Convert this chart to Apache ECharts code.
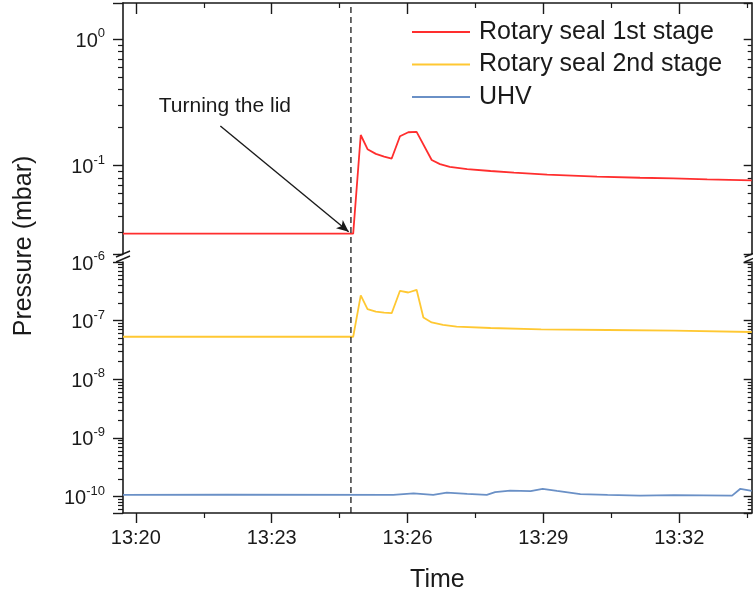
<!DOCTYPE html>
<html>
<head>
<meta charset="utf-8">
<title>Pressure during lid rotation</title>
<script src="https://cdn.jsdelivr.net/npm/echarts@6/dist/echarts.min.js"></script>
<style>
  html, body { margin: 0; padding: 0; background: #fff; }
  #chart { width: 753px; height: 598px; }
</style>
</head>
<body>
<div id="chart"></div>
<script>
// ---- data -------------------------------------------------------------
const seriesNames = ['Rotary seal 1st stage', 'Rotary seal 2nd stage', 'UHV'];

// Rotary seal 1st stage (mbar)
const stage1Times = ['13:19:43', '13:24:48', '13:24:58', '13:25:07', '13:25:18', '13:25:29', '13:25:39',
  '13:25:50', '13:26:01', '13:26:12', '13:26:32', '13:26:43', '13:26:56', '13:27:19', '13:27:50',
  '13:28:21', '13:29:05', '13:30:11', '13:31:08', '13:31:52', '13:32:37', '13:33:36'];
const stage1Values = [0.029, 0.029, 0.175, 0.135, 0.124, 0.118, 0.114,
  0.171, 0.184, 0.185, 0.111, 0.103, 0.098, 0.094, 0.0908,
  0.088, 0.0849, 0.0818, 0.0803, 0.0795, 0.078, 0.0766];

// Rotary seal 2nd stage (mbar)
const stage2Times = ['13:19:43', '13:24:48', '13:24:58', '13:25:07', '13:25:18', '13:25:29', '13:25:39',
  '13:25:50', '13:26:01', '13:26:12', '13:26:21', '13:26:32', '13:26:47', '13:27:05', '13:27:50',
  '13:28:57', '13:30:25', '13:31:53', '13:33:36'];
const stage2Values = [5.32e-8, 5.32e-8, 2.70e-7, 1.57e-7, 1.43e-7, 1.37e-7, 1.34e-7,
  3.23e-7, 3.02e-7, 3.36e-7, 1.13e-7, 9.31e-8, 8.5e-8, 7.89e-8, 7.50e-8,
  7.13e-8, 6.93e-8, 6.74e-8, 6.41e-8];

// UHV chamber (mbar)
const uhvTimes = ['13:19:43', '13:22:00', '13:25:41', '13:26:08', '13:26:34', '13:26:52', '13:27:19',
  '13:27:45', '13:27:56', '13:28:16', '13:28:43', '13:28:59', '13:29:18', '13:29:49', '13:30:25',
  '13:31:08', '13:31:53', '13:33:10', '13:33:21', '13:33:36'];
const uhvValues = [1.07e-10, 1.08e-10, 1.07e-10, 1.14e-10, 1.07e-10, 1.17e-10, 1.11e-10,
  1.07e-10, 1.19e-10, 1.27e-10, 1.24e-10, 1.36e-10, 1.25e-10, 1.10e-10, 1.07e-10,
  1.04e-10, 1.06e-10, 1.04e-10, 1.36e-10, 1.25e-10];

// Time axis
const timeRange = ['13:19:43', '13:33:36'];
const timeTickLabels = ['13:20', '13:23', '13:26', '13:29', '13:32'];
const timeMinorTicks = ['13:21:30', '13:24:30', '13:27:30', '13:30:30', '13:33:30'];

// Pressure axes (broken: upper and lower panels)
const upperRange = [0.02, 1.94];
const upperDecades = [0.1, 1];
const lowerRange = [5.26e-11, 1e-6];
const lowerDecades = [1e-10, 1e-9, 1e-8, 1e-7, 1e-6];

// Event marker and annotation
const eventTime = '13:24:45';
const annotationText = 'Turning the lid';
const annotationAt = ['13:21:58', 0.297];
const arrowFrom = ['13:21:52', 0.206];
const arrowTo = ['13:24:42', 0.030];

// ---- helpers ----------------------------------------------------------
function toMin(t) {
  const p = t.split(':').map(Number);
  return p[0] * 60 + p[1] + (p[2] || 0) / 60;
}
function fmtTime(v) {
  const h = Math.floor(v / 60);
  const m = Math.round(v - h * 60);
  return h + ':' + String(m).padStart(2, '0');
}
function pairs(times, values) {
  return times.map((t, i) => [toMin(t), values[i]]);
}
function logMinors(range) {
  const out = [];
  const d0 = Math.floor(Math.log10(range[0]));
  const d1 = Math.ceil(Math.log10(range[1]));
  for (let d = d0; d <= d1; d++) {
    for (let k = 2; k <= 9; k++) {
      const v = k * Math.pow(10, d);
      if (v >= range[0] && v <= range[1]) out.push(v);
    }
  }
  return out;
}

const FONT = 'Liberation Sans, Arial, sans-serif';
const INK = '#1a1a1a';
const COLORS = ['#ff2e2e', '#ffc832', '#6a90c6'];
const xMin = toMin(timeRange[0]);
const xMax = toMin(timeRange[1]);

const decadeRich = {
  b: { fontSize: 20, lineHeight: 24, verticalAlign: 'bottom', fontFamily: FONT, color: INK },
  s: { fontSize: 13, lineHeight: 13, verticalAlign: 'top', fontFamily: FONT, color: INK }
};

// minor ticks of a log panel, laid out in decade (exponent) space
function minorTickAxis(gridIndex, range, position, inside, length) {
  const vals = logMinors(range).map(v => Math.log10(v));
  return {
    type: 'value', gridIndex: gridIndex, position: position,
    min: Math.log10(range[0]), max: Math.log10(range[1]),
    axisLine: { show: false, onZero: false },
    axisTick: { show: true, inside: inside, length: length, customValues: vals, lineStyle: { color: INK, width: 1.2 } },
    axisLabel: { show: true, customValues: vals, formatter: () => '' },
    splitLine: { show: false }
  };
}

// y axes of one panel: left log scale carrying data, labels and decade ticks,
// right frame edge with inward decade ticks, plus minor-tick axes
function panelYAxes(gridIndex, range) {
  const base = {
    type: 'log', logBase: 10, gridIndex: gridIndex,
    min: range[0], max: range[1],
    splitLine: { show: false }, minorTick: { show: false }
  };
  return [
    Object.assign({}, base, {
      position: 'left',
      axisLine: { show: true, onZero: false, lineStyle: { color: INK, width: 1.6 } },
      axisTick: { show: true, inside: false, length: 10, lineStyle: { color: INK, width: 1.4 } },
      axisLabel: {
        margin: 18, fontFamily: FONT, color: INK, rich: decadeRich,
        formatter: v => {
          const e = Math.log10(v);
          return Math.abs(e - Math.round(e)) < 1e-6 ? '{b|10}{s|' + Math.round(e) + '}' : '';
        }
      }
    }),
    Object.assign({}, base, {
      position: 'right',
      axisLine: { show: true, onZero: false, lineStyle: { color: INK, width: 1.6 } },
      axisTick: { show: true, inside: true, length: 8, lineStyle: { color: INK, width: 1.4 } },
      axisLabel: { show: false }
    }),
    minorTickAxis(gridIndex, range, 'left', false, 5),
    minorTickAxis(gridIndex, range, 'right', true, 4)
  ];
}

const xBase = {
  type: 'value', min: xMin, max: xMax,
  splitLine: { show: false }
};
const majorTicks = timeTickLabels.map(toMin);
const minorTicks = timeMinorTicks.map(toMin);

const xAxes = [
  // upper panel: top frame edge, ticks pointing inward
  Object.assign({}, xBase, {
    gridIndex: 0, position: 'top',
    axisLine: { show: true, onZero: false, lineStyle: { color: INK, width: 1.6 } },
    axisTick: { show: true, inside: true, length: 11, customValues: majorTicks, lineStyle: { color: INK, width: 1.4 } },
    axisLabel: { show: false }
  }),
  Object.assign({}, xBase, {
    gridIndex: 0, position: 'top',
    axisLine: { show: false, onZero: false },
    axisTick: { show: true, inside: true, length: 5, customValues: minorTicks, lineStyle: { color: INK, width: 1.2 } },
    axisLabel: { show: false }
  }),
  // lower panel: time axis
  Object.assign({}, xBase, {
    gridIndex: 1, position: 'bottom',
    name: 'Time', nameLocation: 'middle', nameGap: 55,
    nameTextStyle: { fontFamily: FONT, fontSize: 25, color: INK },
    axisLine: { show: true, onZero: false, lineStyle: { color: INK, width: 1.6 } },
    axisTick: { show: true, inside: false, length: 10, customValues: majorTicks, lineStyle: { color: INK, width: 1.4 } },
    axisLabel: { show: true, customValues: majorTicks, margin: 15, fontFamily: FONT, fontSize: 20, color: INK, formatter: fmtTime }
  }),
  Object.assign({}, xBase, {
    gridIndex: 1, position: 'bottom',
    axisLine: { show: false, onZero: false },
    axisTick: { show: true, inside: false, length: 5, customValues: minorTicks, lineStyle: { color: INK, width: 1.2 } },
    axisLabel: { show: false }
  }),
  // full-height frame used for the event marker and the pressure title
  Object.assign({}, xBase, {
    gridIndex: 2, show: false
  })
];

const yAxes = [].concat(
  panelYAxes(0, upperRange),   // 0..3
  panelYAxes(1, lowerRange),   // 4..7
  [{
    type: 'value', gridIndex: 2, min: 0, max: 1, position: 'left',
    name: 'Pressure (mbar)', nameLocation: 'middle', nameGap: 86,
    nameTextStyle: { fontFamily: FONT, fontSize: 25, color: INK, padding: [0, 0, 0, 24] },
    axisLine: { show: false }, axisTick: { show: false }, axisLabel: { show: false },
    splitLine: { show: false }
  }]                           // 8
);

const lineCommon = {
  type: 'line', symbol: 'none', showSymbol: false, animation: false
};

// break marks on the left and right frame edges
function breakMarks(x) {
  return [
    { type: 'line', shape: { x1: x - 7, y1: 257, x2: x + 7, y2: 251 }, style: { stroke: INK, lineWidth: 1.4 } },
    { type: 'line', shape: { x1: x - 7, y1: 262, x2: x + 7, y2: 256 }, style: { stroke: INK, lineWidth: 1.4 } }
  ];
}

const eventX = toMin(eventTime);
const gridBase = { left: 123, right: 1.3, outerBoundsMode: 'none', containLabel: false };

const option = {
  animation: false,
  backgroundColor: '#fff',
  color: COLORS,
  textStyle: { fontFamily: FONT },
  grid: [
    Object.assign({}, gridBase, { top: 3, height: 251 }),
    Object.assign({}, gridBase, { top: 262, height: 251 }),
    Object.assign({}, gridBase, { top: 3, height: 510 })
  ],
  legend: {
    data: seriesNames,
    orient: 'vertical',
    left: 407, top: 14,
    padding: 5,
    icon: 'rect',
    itemWidth: 58, itemHeight: 2, itemGap: 6.5,
    textStyle: { fontFamily: FONT, fontSize: 25, lineHeight: 26, color: INK, padding: [0, 0, 0, 4] }
  },
  xAxis: xAxes,
  yAxis: yAxes,
  series: [
    Object.assign({}, lineCommon, {
      name: seriesNames[0], xAxisIndex: 0, yAxisIndex: 0,
      data: pairs(stage1Times, stage1Values),
      itemStyle: { color: COLORS[0] },
      lineStyle: { width: 1.8, color: COLORS[0] },
      markLine: {
        silent: true, symbol: ['none', 'arrow'], symbolSize: [8, 12],
        label: { show: false },
        lineStyle: { color: INK, width: 1.4, type: 'solid' },
        data: [[
          { coord: [toMin(arrowFrom[0]), arrowFrom[1]] },
          { coord: [toMin(arrowTo[0]), arrowTo[1]] }
        ]]
      },
      markPoint: {
        silent: true, symbol: 'circle', symbolSize: 1,
        itemStyle: { color: 'rgba(0,0,0,0)' },
        label: { show: true, position: 'inside', formatter: annotationText, fontFamily: FONT, fontSize: 21, color: INK },
        data: [{ coord: [toMin(annotationAt[0]), annotationAt[1]] }]
      }
    }),
    Object.assign({}, lineCommon, {
      name: seriesNames[1], xAxisIndex: 2, yAxisIndex: 4,
      data: pairs(stage2Times, stage2Values),
      itemStyle: { color: COLORS[1] },
      lineStyle: { width: 1.8, color: COLORS[1] }
    }),
    Object.assign({}, lineCommon, {
      name: seriesNames[2], xAxisIndex: 2, yAxisIndex: 4,
      data: pairs(uhvTimes, uhvValues),
      itemStyle: { color: COLORS[2] },
      lineStyle: { width: 1.8, color: COLORS[2] }
    }),
    // lid-turning instant across both panels
    Object.assign({}, lineCommon, {
      name: 'lid turned', xAxisIndex: 4, yAxisIndex: 8, silent: true,
      data: [[eventX, 0], [eventX, 1]],
      itemStyle: { color: INK },
      lineStyle: { color: INK, width: 1.3, type: [6, 4] }
    })
  ],
  graphic: [].concat(breakMarks(123), breakMarks(751.7))
};

const chart = echarts.init(document.getElementById('chart'), null, { renderer: 'canvas' });
chart.setOption(option);
</script>
</body>
</html>
